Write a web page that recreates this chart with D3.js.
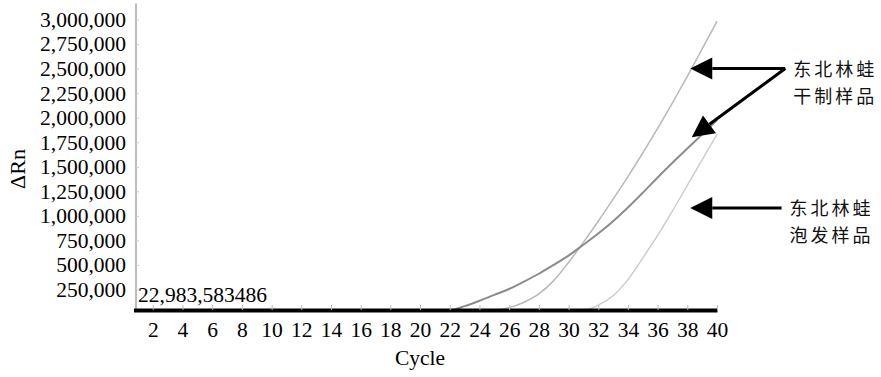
<!DOCTYPE html>
<html>
<head>
<meta charset="utf-8">
<script src="https://cdn.jsdelivr.net/npm/d3@7"></script>
<style>
  body { margin: 0; background: #fff; }
  svg { display: block; }
</style>
</head>
<body>
<div id="chart"></div>
<script>
// amplification plot, values
var cycles = d3.range(1, 41)
var baseVal = 40000

var dryA = [40000, 40000, 40000, 40000, 40000, 40000, 40000, 40000, 40000, 40000,
    40000, 40000, 40000, 40000, 40000, 40000, 40000, 40000, 40000, 40000,
    40000, 40000, 40000, 40000, 40000, 65000, 120000, 205000, 340000, 525000,
    730000, 945000, 1170000, 1400000, 1640000, 1890000, 2150000, 2420000, 2700000, 2980000]
var dryB = [40000, 40000, 40000, 40000, 40000, 40000, 40000, 40000, 40000, 40000,
    40000, 40000, 40000, 40000, 40000, 40000, 40000, 40000, 40000, 40000,
    40000, 40000, 80000, 135000, 195000, 255000, 330000, 410000, 500000, 595000,
    705000, 820000, 945000, 1085000, 1235000, 1390000, 1540000, 1685000, 1830000, 1975000]
var soaked = [40000, 40000, 40000, 40000, 40000, 40000, 40000, 40000, 40000, 40000,
    40000, 40000, 40000, 40000, 40000, 40000, 40000, 40000, 40000, 40000,
    40000, 40000, 40000, 40000, 40000, 40000, 40000, 40000, 40000, 40000,
    40000, 90000, 185000, 350000, 570000, 800000, 1050000, 1310000, 1570000, 1830000]

var xTicks = d3.range(2, 41, 2)
var yTicks = d3.range(250000, 3000001, 250000)
var thresholdLabel = '22,983,583486'

// annotation anchors in data units: label point and arrow tips
var notes = [
    { lines: ['东北林蛙', '干制样品'], from: [44.6, 2500000], tips: [[38.2, 2500000], [38.3, 1800000]] },
    { lines: ['东北林蛙', '泡发样品'], from: [44.35, 1080000], tips: [[38.2, 1080000]] }
]

var series = [
    { values: dryA, color: '#b8b8b8', width: 1.5 },
    { values: dryB, color: '#8c8c8c', width: 2 },
    { values: soaked, color: '#cacaca', width: 1.4 }
]

var width = 881, height = 377
var svg = d3.select('#chart').append('svg')
    .attr('width', width)
    .attr('height', height)

svg.append('rect').attr('width', width).attr('height', height).attr('fill', '#fff')

var x = d3.scaleLinear().domain([0.7, 40]).range([133.5, 717])
var y = d3.scaleLinear().domain([0, 3000000]).range([314, 19.5])

var serif = 'Liberation Serif, Times New Roman, serif'
var fs = 21.5

// y axis line and labels
svg.append('line')
    .attr('x1', 136).attr('x2', 136)
    .attr('y1', y(baseVal)).attr('y2', y(3000000) - 16)
    .attr('stroke', '#bdbdbd')
    .attr('stroke-width', 2)

var yAxis = svg.append('g')
    .attr('transform', 'translate(136,0)')
    .call(d3.axisLeft(y).tickValues(yTicks).tickSize(-3).tickSizeOuter(0).tickPadding(10)
        .tickFormat(d3.format(',')))
yAxis.select('.domain').remove()
yAxis.selectAll('line').attr('stroke', '#ccc')
yAxis.selectAll('text')
    .attr('font-family', serif)
    .attr('font-size', fs)
    .attr('fill', '#000')

// curves
var line = d3.line()
    .x((d, i) => x(cycles[i]))
    .y((d) => y(d))
    .curve(d3.curveMonotoneX)

series.forEach(function (s) {
    svg.append('path')
        .datum(s.values)
        .attr('d', line)
        .attr('fill', 'none')
        .attr('stroke', s.color)
        .attr('stroke-width', s.width)
})

// x axis sits on the threshold line
var xAxis = svg.append('g')
    .attr('transform', 'translate(0,' + y(baseVal) + ')')
    .call(d3.axisBottom(x).tickValues(xTicks).tickSize(-5).tickSizeOuter(0).tickPadding(12))
xAxis.select('.domain')
    .attr('stroke', '#000')
    .attr('stroke-width', 4)
xAxis.selectAll('line').attr('stroke', '#bbb')
xAxis.selectAll('text')
    .attr('font-family', serif)
    .attr('font-size', fs)
    .attr('fill', '#000')

svg.append('text')
    .attr('x', 138)
    .attr('y', y(baseVal) - 8)
    .attr('font-family', serif)
    .attr('font-size', fs)
    .text(thresholdLabel)

svg.append('text')
    .attr('x', 420)
    .attr('y', 365)
    .attr('text-anchor', 'middle')
    .attr('font-family', serif)
    .attr('font-size', fs)
    .text('Cycle')

svg.append('text')
    .attr('transform', 'translate(25,169) rotate(-90)')
    .attr('text-anchor', 'middle')
    .attr('font-family', serif)
    .attr('font-size', 22)
    .text('ΔRn')

// arrows and labels
var headLen = 22, headHalf = 11
notes.forEach(function (n) {
    var fx = x(n.from[0]), fy = y(n.from[1])
    n.tips.forEach(function (t) {
        var tx = x(t[0]), ty = y(t[1])
        var a = Math.atan2(fy - ty, fx - tx)
        var bx = tx + headLen * Math.cos(a), by = ty + headLen * Math.sin(a)
        svg.append('line')
            .attr('x1', fx).attr('y1', fy)
            .attr('x2', bx).attr('y2', by)
            .attr('stroke', '#000')
            .attr('stroke-width', 3)
        var px = -Math.sin(a) * headHalf, py = Math.cos(a) * headHalf
        svg.append('path')
            .attr('d', 'M' + tx + ',' + ty + 'L' + (bx + px) + ',' + (by + py) + 'L' + (bx - px) + ',' + (by - py) + 'Z')
            .attr('fill', '#000')
    })
    svg.selectAll(null)
        .data(n.lines)
        .enter()
        .append('text')
        .attr('x', fx + 8)
        .attr('y', (d, i) => fy + 7 + i * 27)
        .attr('font-family', 'Noto Sans CJK SC')
        .attr('font-size', 18)
        .attr('letter-spacing', 3)
        .attr('fill', '#111')
        .text((d) => d)
})
</script>
</body>
</html>
